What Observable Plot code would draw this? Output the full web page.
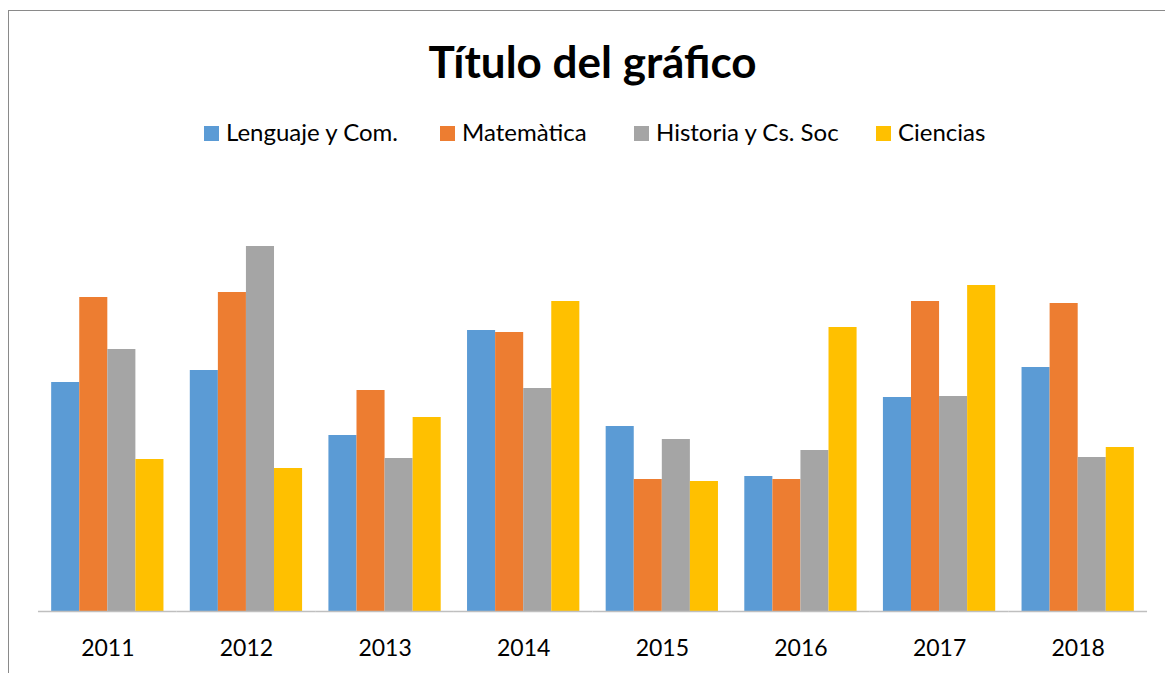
<!DOCTYPE html>
<html>
<head>
<meta charset="utf-8">
<script src="https://cdn.jsdelivr.net/npm/d3@7"></script>
<script src="https://cdn.jsdelivr.net/npm/@observablehq/plot@0.6"></script>
<style>
  html, body { margin: 0; padding: 0; width: 1165px; height: 673px; overflow: hidden; background: #fff; font-family: Lato, "Open Sans", sans-serif; }
  #frame { position: absolute; left: 8px; top: 10px; width: 1200px; height: 700px; border-left: 1px solid #8a8a8a; border-top: 1px solid #8a8a8a; box-sizing: border-box; }
  #title { position: absolute; left: 0; width: 1185px; top: 39px; text-align: center; font-size: 44px; line-height: 1; font-weight: 700; color: #000; }
  .leg { position: absolute; top: 120px; font-size: 24px; line-height: 1; color: #000; white-space: nowrap; }
  .sw { position: absolute; width: 15px; height: 15px; top: 6px; }
  #chart { position: absolute; left: 0; top: 0; }
</style>
</head>
<body>
<div id="frame"></div>
<div id="title">Título del gráfico</div>
<div id="legend"></div>
<div id="chart"></div>
<script>
const years = ["2011", "2012", "2013", "2014", "2015", "2016", "2017", "2018"];
const subjects = ["Lenguaje y Com.", "Matemàtica", "Historia y Cs. Soc", "Ciencias"];
const colors = ["#5B9BD5", "#ED7D31", "#A5A5A5", "#FFC000"];
const lenguaje  = [229, 241, 176, 281, 185, 135, 214, 244];
const matematica = [314, 319, 221, 279, 132, 132, 310, 308];
const historia  = [262, 365, 153, 223, 172, 161, 215, 154];
const ciencias  = [152, 143, 194, 310, 130, 284, 326, 164];
const legendX = [204, 440, 634, 876];

const series = [lenguaje, matematica, historia, ciencias];
const data = [];
years.forEach((y, i) => subjects.forEach((s, j) => data.push({year: y, subject: s, value: series[j][i]})));

// legend
const leg = document.getElementById("legend");
subjects.forEach((s, j) => {
  const d = document.createElement("div");
  d.className = "leg";
  d.style.left = legendX[j] + "px";
  d.innerHTML = `<span class="sw" style="background:${colors[j]};left:0"></span><span style="padding-left:22px">${s}</span>`;
  leg.appendChild(d);
});

const chart = Plot.plot({
  width: 1165,
  height: 673,
  marginTop: 211,
  marginBottom: 62,
  marginLeft: 38,
  marginRight: 18,
  style: {fontFamily: "Lato, 'Open Sans', sans-serif", background: "transparent"},
  fx: {domain: years, paddingInner: 0.19, paddingOuter: 0.095, round: false, label: null, axis: "bottom", tickSize: 0, tickPadding: 28, fontSize: 23},
  x: {domain: subjects, padding: 0, round: false, axis: null},
  y: {domain: [0, 400], axis: null},
  color: {domain: subjects, range: colors},
  marks: [
    Plot.barY(data, {fx: "year", x: "subject", y: "value", fill: "subject"}),
    Plot.ruleY([0], {stroke: "#bfbfbf", strokeWidth: 1.5, insetLeft: -13.2, insetRight: -13.2})
  ]
});
chart.querySelectorAll('g[aria-label="fx-axis tick label"]').forEach(el => { el.style.fontSize = "23px"; el.setAttribute("fill", "#000"); });
document.getElementById("chart").appendChild(chart);
</script>
</body>
</html>
